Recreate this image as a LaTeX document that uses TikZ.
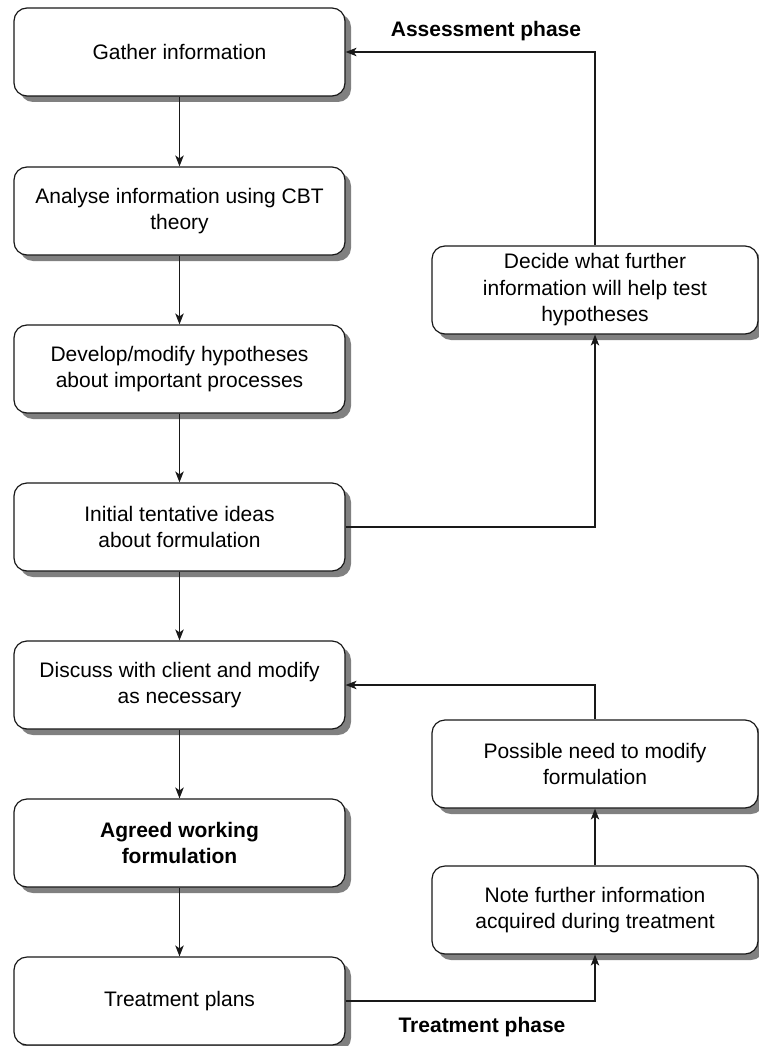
\documentclass[tikz,border=0pt]{standalone}
\usepackage{fontspec}
\setmainfont{Liberation Sans}
\usetikzlibrary{shadows,arrows.meta}
\begin{document}
\begin{tikzpicture}[x=1pt,y=-1pt,
  box/.style={draw=black!90, line width=1.2pt, rounded corners=13pt, fill=white,
    minimum width=331pt, minimum height=88pt, align=center, inner sep=0pt,
    font=\fontsize{21}{26.5}\selectfont,
    drop shadow={shadow xshift=6pt, shadow yshift=-6pt, fill=black!50, opacity=1}},
  rbox/.style={box, minimum width=326pt},
  flow/.style={line width=1.1pt, draw=black!90, -{Stealth[length=11pt,width=8.5pt,inset=3pt]}},
  phase/.style={font=\fontsize{21}{26}\selectfont\bfseries, inner sep=0pt}]
\clip (0,0) rectangle (759,1046);
\fill[white] (0,0) rectangle (759,1046);

% left column: the main sequence
\node[box] (gather) at (179.5,52)  {Gather information};
\node[box] (analyse) at (179.5,211) {Analyse information using CBT\\theory};
\node[box] (develop) at (179.5,369) {Develop/modify hypotheses\\about important processes};
\node[box] (initial) at (179.5,527) {Initial tentative ideas\\about formulation};
\node[box] (discuss) at (179.5,685) {Discuss with client and modify\\as necessary};
\node[box] (agreed) at (179.5,843) {\bfseries Agreed working\\\bfseries formulation};
\node[box] (plans) at (179.5,1001) {Treatment plans};

% right column: the feedback loops
\node[rbox] (decide) at (595,290) {Decide what further\\information will help test\\hypotheses};
\node[rbox] (possible) at (595,764) {Possible need to modify\\formulation};
\node[rbox] (note) at (595,910) {Note further information\\acquired during treatment};

% phase labels
\node[phase] (assess) at (486,31) {Assessment phase};
\node[phase] (treatph) at (482,1027) {Treatment phase};

% connectors
\draw[flow] (gather) -- (analyse);
\draw[flow] (analyse) -- (develop);
\draw[flow] (develop) -- (initial);
\draw[flow] (initial) -- (discuss);
\draw[flow] (discuss) -- (agreed);
\draw[flow] (agreed) -- (plans);
\draw[flow] (initial.east) -| (decide.south);
\draw[flow] (decide.north) |- (gather.east);
\draw[flow] (plans.east) -| (note.south);
\draw[flow] (note) -- (possible);
\draw[flow] (possible.north) |- (discuss.east);
\end{tikzpicture}
\end{document}
